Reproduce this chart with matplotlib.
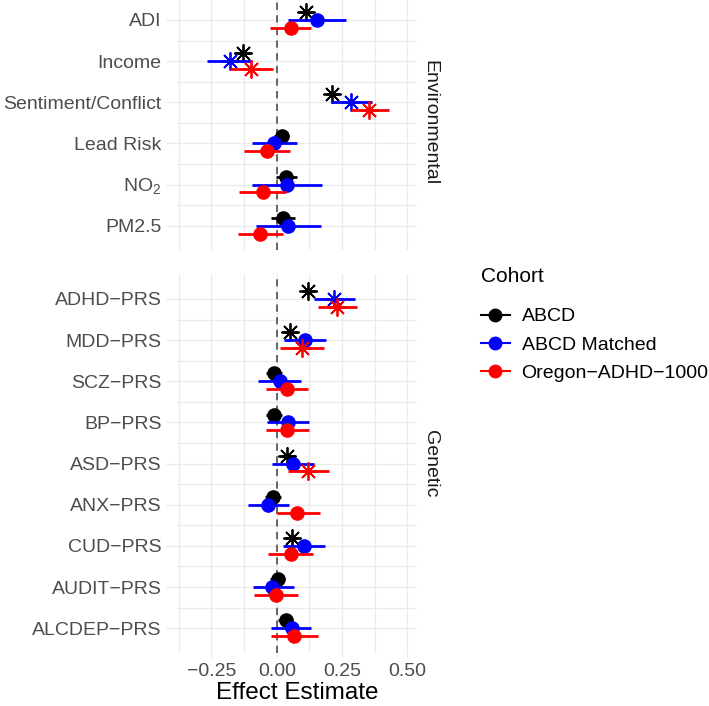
import numpy as np
import matplotlib.pyplot as plt
from matplotlib.lines import Line2D

plt.rcParams['font.family'] = ['Liberation Sans', 'DejaVu Sans']

# ---- data ----
env_labels = ['ADI', 'Income', 'Sentiment/Conflict', 'Lead Risk', r'NO$_\mathregular{2}$', 'PM2.5']
gen_labels = ['ADHD\u2212PRS', 'MDD\u2212PRS', 'SCZ\u2212PRS', 'BP\u2212PRS', 'ASD\u2212PRS',
              'ANX\u2212PRS', 'CUD\u2212PRS', 'AUDIT\u2212PRS', 'ALCDEP\u2212PRS']

cohorts = ['ABCD', 'ABCD Matched', 'Oregon\u2212ADHD\u22121000']
colors = ['black', 'blue', 'red']

# environmental: estimate, lower, upper, significant
env_abcd_est = [0.111, -0.131, 0.213, 0.019, 0.036, 0.022]
env_abcd_lo = [0.085, -0.160, 0.190, -0.010, -0.004, -0.023]
env_abcd_hi = [0.137, -0.100, 0.240, 0.047, 0.079, 0.069]
env_abcd_sig = [1, 1, 1, 0, 0, 0]

env_match_est = [0.153, -0.179, 0.284, -0.009, 0.041, 0.043]
env_match_lo = [0.043, -0.268, 0.209, -0.096, -0.093, -0.080]
env_match_hi = [0.264, -0.093, 0.366, 0.079, 0.175, 0.168]
env_match_sig = [0, 1, 1, 0, 0, 0]

env_oregon_est = [0.054, -0.097, 0.355, -0.036, -0.054, -0.065]
env_oregon_lo = [-0.027, -0.179, 0.283, -0.124, -0.145, -0.148]
env_oregon_hi = [0.133, -0.013, 0.430, 0.051, 0.037, 0.022]
env_oregon_sig = [0, 1, 1, 0, 0, 0]

# genetic
gen_abcd_est = [0.121, 0.050, -0.010, -0.010, 0.041, -0.014, 0.057, 0.003, 0.034]
gen_abcd_lo = [0.095, 0.022, -0.040, -0.040, 0.013, -0.044, 0.030, -0.027, 0.004]
gen_abcd_hi = [0.147, 0.078, 0.020, 0.020, 0.069, 0.016, 0.084, 0.033, 0.064]
gen_abcd_sig = [1, 1, 0, 0, 1, 0, 1, 0, 0]

gen_match_est = [0.219, 0.108, 0.011, 0.043, 0.064, -0.033, 0.105, -0.017, 0.057]
gen_match_lo = [0.143, 0.028, -0.071, -0.036, -0.017, -0.110, 0.022, -0.091, -0.023]
gen_match_hi = [0.299, 0.190, 0.094, 0.124, 0.143, 0.047, 0.185, 0.066, 0.130]
gen_match_sig = [1, 0, 0, 0, 0, 0, 0, 0, 0]

gen_oregon_est = [0.232, 0.096, 0.041, 0.041, 0.121, 0.079, 0.056, -0.003, 0.066]
gen_oregon_lo = [0.156, 0.013, -0.042, -0.042, 0.043, 0.000, -0.032, -0.089, -0.023]
gen_oregon_hi = [0.309, 0.179, 0.121, 0.124, 0.200, 0.165, 0.140, 0.083, 0.156]
gen_oregon_sig = [1, 1, 0, 0, 1, 0, 0, 0, 0]

env_series = [(env_abcd_est, env_abcd_lo, env_abcd_hi, env_abcd_sig),
              (env_match_est, env_match_lo, env_match_hi, env_match_sig),
              (env_oregon_est, env_oregon_lo, env_oregon_hi, env_oregon_sig)]
gen_series = [(gen_abcd_est, gen_abcd_lo, gen_abcd_hi, gen_abcd_sig),
              (gen_match_est, gen_match_lo, gen_match_hi, gen_match_sig),
              (gen_oregon_est, gen_oregon_lo, gen_oregon_hi, gen_oregon_sig)]

W, H = 709, 706
fig = plt.figure(figsize=(W / 100, H / 100), dpi=100)

row_px = 41.15
left, right = 177, 417


def make_ax(top_px, n):
    height_px = (n - 1 + 1.2) * row_px
    bottom_px = top_px + height_px
    ax = fig.add_axes([left / W, 1 - bottom_px / H, (right - left) / W, height_px / H])
    return ax, bottom_px


def draw_panel(ax, labels, series, strip):
    n = len(labels)
    y = np.arange(n)
    offsets = [-0.19, 0.0, 0.19]
    for k, (est, lo, hi, sig) in enumerate(series):
        est = np.array(est)
        lo = np.array(lo)
        hi = np.array(hi)
        yy = y + offsets[k]
        ax.hlines(yy, lo, hi, color=colors[k], lw=2.0, zorder=3 + k)
        for e, yv, s in zip(est, yy, sig):
            if s:
                ax.plot(e, yv, marker=(8, 2, 0), ms=13, mew=1.3, color=colors[k],
                        linestyle='none', zorder=4 + k)
            else:
                ax.plot(e, yv, marker='o', ms=9.5, color=colors[k],
                        linestyle='none', zorder=4 + k)
    ax.axvline(0, color='#5a5a5a', lw=1.3, ls=(0, (4, 3)), zorder=2)
    ax.set_ylim(n - 1 + 0.6, -0.6)
    ax.set_xlim(-0.382, 0.537)
    ax.set_yticks(y)
    ax.set_yticklabels(labels, fontsize=14, color='#4D4D4D')
    ax.set_yticks(np.arange(n - 1) + 0.5, minor=True)
    ax.set_xticks([-0.25, 0, 0.25, 0.5])
    ax.set_xticks([-0.375, -0.125, 0.125, 0.375], minor=True)
    ax.grid(True, which='both', color='#EBEBEB', lw=1.0, zorder=0)
    ax.set_axisbelow(True)
    ax.tick_params(axis='y', which='major', color='#EBEBEB', length=8, width=1.0, pad=3)
    ax.tick_params(axis='x', which='major', color='#EBEBEB', length=3, width=1.0, pad=4)
    ax.tick_params(axis='both', which='minor', length=0)
    for s in ax.spines.values():
        s.set_visible(False)
    ax.text(1.055, 0.5, strip, transform=ax.transAxes, rotation=-90,
            ha='center', va='center', fontsize=14, color='#1A1A1A')


ax1, b1 = make_ax(-4.7, len(env_labels))
ax2, b2 = make_ax(274.3, len(gen_labels))

draw_panel(ax1, env_labels, env_series, 'Environmental')
draw_panel(ax2, gen_labels, gen_series, 'Genetic')

ax1.tick_params(axis='x', labelbottom=False, length=0)
ax2.set_xticklabels(['\u22120.25', '0.00', '0.25', '0.50'], fontsize=14, color='#4D4D4D')
ax2.set_xlabel('Effect Estimate', fontsize=17.5, labelpad=2)

# legend: title drawn separately so the gap above the keys matches
fig.text(481 / W, 1 - 277 / H, 'Cohort', fontsize=15, ha='left', va='center')
handles = [Line2D([0], [0], color=c, lw=1.5, marker='o', ms=9) for c in colors]
fig.legend(handles, cohorts, loc='upper left',
           bbox_to_anchor=(473 / W, 1 - 300 / H), frameon=False, fontsize=14,
           handlelength=1.5, handletextpad=0.6,
           labelspacing=0.55, borderaxespad=0)

fig.savefig('out.png', dpi=100)
